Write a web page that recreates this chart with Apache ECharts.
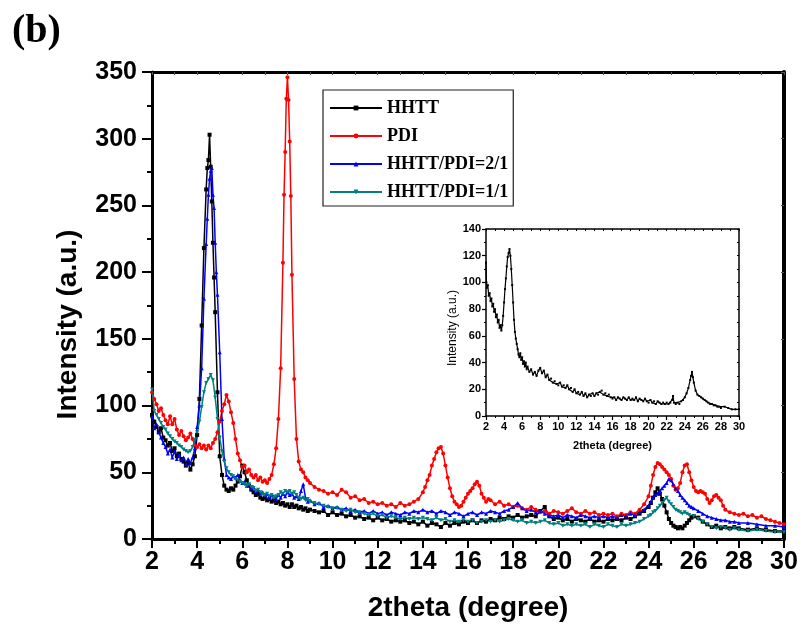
<!DOCTYPE html>
<html lang="en">
<head>
<meta charset="UTF-8">
<title>XRD patterns (b)</title>
<script src="https://cdn.jsdelivr.net/npm/echarts@6/dist/echarts.min.js"></script>
<style>
  html, body { margin: 0; padding: 0; background: #fff; }
  #chart { width: 803px; height: 630px; }
</style>
</head>
<body>
<div id="chart"></div>
<script>
// 2theta / intensity pairs
var seriesNames = ['HHTT', 'PDI', 'HHTT/PDI=2/1', 'HHTT/PDI=1/1'];

var hhtt = [[2.0,93],[2.1,88],[2.2,84],[2.3,80],[2.4,83],[2.5,76],[2.6,74],[2.7,70],[2.8,72],[2.9,66],[3.0,68],[3.1,62],[3.2,64],[3.3,60],[3.4,58],[3.5,55],[3.6,57],[3.7,52],[3.8,56],[3.9,62],
  [4.0,78],[4.1,105],[4.2,160],[4.3,218],[4.4,262],[4.45,278],[4.5,284],[4.55,303],[4.6,279],[4.65,253],[4.7,222],[4.75,196],[4.8,170],[4.9,110],[5.0,62],[5.1,48],[5.2,40],[5.3,37],[5.4,36],[5.5,38],
  [5.6,37],[5.7,40],[5.8,43],[5.9,47],[6.0,55],[6.1,50],[6.2,44],[6.3,40],[6.4,37],[6.5,35],[6.6,33],[6.7,34],[6.8,31],[6.9,30],[7.0,31],[7.1,29],[7.2,30],[7.3,28],[7.4,29],[7.5,27],
  [7.6,28],[7.7,26],[7.8,27],[7.9,25],[8.0,26],[8.1,24],[8.2,26],[8.3,24],[8.4,25],[8.5,23],[8.6,24],[8.7,22],[8.8,23],[8.9,21],[9.0,22],[9.2,21],[9.4,20],[9.6,21],[9.8,18],[10.0,20],
  [10.2,18],[10.4,19],[10.6,17],[10.8,18],[11.0,16],[11.2,17],[11.4,15],[11.6,16],[11.8,14],[12.0,16],[12.2,14],[12.4,15],[12.6,13],[12.8,14],[13.0,13],[13.2,14],[13.4,12],[13.6,13],[13.8,11],[14.0,13],
  [14.2,10],[14.4,12],[14.6,11],[14.8,9],[15.0,12],[15.2,10],[15.4,12],[15.6,11],[15.8,13],[16.0,12],[16.2,14],[16.4,12],[16.6,14],[16.8,13],[17.0,15],[17.2,14],[17.4,16],[17.6,15],[17.8,17],[18.0,16],
  [18.2,18],[18.4,16],[18.6,17],[18.8,18],[19.0,17],[19.2,21],[19.4,24],[19.6,17],[19.8,15],[20.0,16],[20.2,14],[20.4,15],[20.6,13],[20.8,15],[21.0,14],[21.2,13],[21.4,15],[21.6,13],[21.8,14],[22.0,13],
  [22.2,15],[22.4,14],[22.6,15],[22.8,14],[23.0,16],[23.2,15],[23.4,17],[23.6,19],[23.8,21],[24.0,24],[24.1,27],[24.2,31],[24.3,35],[24.4,38],[24.5,34],[24.6,30],[24.7,25],[24.8,20],[24.9,15],[25.0,12],
  [25.1,10],[25.2,9],[25.3,8],[25.4,9],[25.5,8],[25.6,10],[25.7,12],[25.8,14],[25.9,16],[26.0,17],[26.2,16],[26.4,13],[26.6,11],[26.8,9],[27.0,10],[27.2,8],[27.4,9],[27.6,8],[27.8,9],[28.0,8],
  [28.4,7],[28.8,8],[29.2,7],[29.6,6],[30.0,6]];

var pdi = [[2.0,110],[2.1,105],[2.2,101],[2.3,96],[2.4,98],[2.5,93],[2.6,89],[2.7,86],[2.8,92],[2.9,86],[3.0,90],[3.1,82],[3.2,78],[3.3,81],[3.4,77],[3.5,74],[3.6,76],[3.7,79],[3.8,75],[3.9,70],
  [4.0,69],[4.1,71],[4.2,68],[4.3,70],[4.4,67],[4.5,70],[4.6,68],[4.7,72],[4.8,75],[4.9,80],[5.0,88],[5.1,96],[5.2,101],[5.3,108],[5.4,103],[5.5,95],[5.6,87],[5.7,75],[5.8,64],[5.9,59],
  [6.0,54],[6.1,55],[6.2,50],[6.3,52],[6.4,48],[6.5,46],[6.6,48],[6.7,44],[6.8,46],[6.9,43],[7.0,44],[7.1,42],[7.2,45],[7.3,48],[7.4,56],[7.5,68],[7.6,90],[7.7,128],[7.8,207],[7.85,258],
  [7.9,290],[7.95,330],[8.0,346],[8.05,329],[8.1,298],[8.15,257],[8.2,198],[8.3,120],[8.4,75],[8.5,58],[8.6,52],[8.7,50],[8.8,46],[8.9,44],[9.0,42],[9.2,39],[9.4,37],[9.6,36],[9.8,34],[10.0,35],
  [10.2,33],[10.4,37],[10.6,35],[10.8,31],[11.0,32],[11.2,29],[11.4,30],[11.6,27],[11.8,28],[12.0,26],[12.2,27],[12.4,25],[12.6,26],[12.8,24],[13.0,27],[13.2,25],[13.4,26],[13.6,28],[13.8,30],[14.0,35],
  [14.1,39],[14.2,44],[14.3,48],[14.4,55],[14.5,60],[14.6,65],[14.7,68],[14.8,69],[14.9,64],[15.0,55],[15.1,46],[15.2,38],[15.3,32],[15.4,28],[15.5,26],[15.6,24],[15.7,25],[15.8,28],[15.9,31],[16.0,34],
  [16.1,36],[16.2,38],[16.3,41],[16.4,43],[16.5,40],[16.6,34],[16.7,31],[16.8,28],[16.9,30],[17.0,29],[17.2,26],[17.4,28],[17.6,25],[17.8,26],[18.0,24],[18.2,25],[18.4,23],[18.6,22],[18.8,24],[19.0,22],
  [19.2,20],[19.4,21],[19.6,19],[19.8,21],[20.0,20],[20.2,19],[20.4,21],[20.6,23],[20.8,20],[21.0,19],[21.2,21],[21.4,19],[21.6,20],[21.8,18],[22.0,19],[22.2,18],[22.4,19],[22.6,17],[22.8,19],[23.0,18],
  [23.2,20],[23.4,19],[23.6,22],[23.8,26],[24.0,32],[24.1,40],[24.2,48],[24.3,54],[24.4,57],[24.5,56],[24.6,54],[24.7,52],[24.8,50],[24.9,48],[25.0,45],[25.1,40],[25.2,37],[25.3,38],[25.4,42],[25.5,50],
  [25.6,55],[25.7,56],[25.8,50],[25.9,44],[26.0,39],[26.1,36],[26.2,35],[26.3,36],[26.4,35],[26.5,34],[26.6,30],[26.7,27],[26.8,29],[26.9,32],[27.0,33],[27.1,31],[27.2,29],[27.3,25],[27.4,22],[27.6,20],
  [27.8,19],[28.0,18],[28.2,19],[28.4,17],[28.6,18],[28.8,16],[29.0,17],[29.2,15],[29.4,14],[29.6,13],[29.8,12],[30.0,11]];

var mix21 = [[2.0,92],[2.1,83],[2.2,86],[2.3,80],[2.4,76],[2.5,72],[2.6,69],[2.7,64],[2.8,67],[2.9,61],[3.0,66],[3.1,60],[3.2,63],[3.3,59],[3.4,61],[3.5,56],[3.6,60],[3.7,57],[3.8,61],[3.9,68],
  [4.0,84],[4.1,100],[4.2,128],[4.3,180],[4.4,221],[4.45,240],[4.5,258],[4.55,270],[4.6,276],[4.65,278],[4.7,258],[4.75,248],[4.8,222],[4.85,200],[4.9,183],[5.0,140],[5.1,90],[5.2,60],[5.3,48],[5.4,46],
  [5.5,45],[5.6,47],[5.7,46],[5.8,48],[5.9,44],[6.0,42],[6.1,43],[6.2,40],[6.3,41],[6.4,38],[6.5,39],[6.6,36],[6.7,37],[6.8,34],[6.9,35],[7.0,33],[7.1,34],[7.2,31],[7.3,33],[7.4,32],
  [7.5,30],[7.6,33],[7.7,31],[7.8,34],[7.9,32],[8.0,35],[8.1,33],[8.2,34],[8.3,31],[8.4,32],[8.5,30],[8.6,36],[8.7,41],[8.8,31],[8.9,28],[9.0,29],[9.2,26],[9.4,27],[9.6,24],[9.8,25],
  [10.0,23],[10.2,24],[10.4,22],[10.6,23],[10.8,21],[11.0,22],[11.2,20],[11.4,21],[11.6,19],[11.8,21],[12.0,19],[12.2,20],[12.4,18],[12.6,20],[12.8,19],[13.0,18],[13.2,20],[13.4,19],[13.6,21],[13.8,20],
  [14.0,22],[14.2,20],[14.4,21],[14.6,19],[14.8,21],[15.0,20],[15.2,18],[15.4,20],[15.6,19],[15.8,17],[16.0,19],[16.2,20],[16.4,18],[16.6,20],[16.8,19],[17.0,21],[17.2,20],[17.4,19],[17.6,21],[17.8,22],
  [18.0,24],[18.2,27],[18.4,23],[18.6,21],[18.8,22],[19.0,20],[19.2,21],[19.4,19],[19.6,18],[19.8,17],[20.0,18],[20.2,16],[20.4,18],[20.6,17],[20.8,16],[21.0,18],[21.2,17],[21.4,16],[21.6,17],[21.8,16],
  [22.0,17],[22.2,16],[22.4,17],[22.6,16],[22.8,18],[23.0,17],[23.2,19],[23.4,18],[23.6,20],[23.8,22],[24.0,25],[24.1,28],[24.2,31],[24.3,33],[24.4,34],[24.5,36],[24.6,38],[24.7,40],[24.8,42],[24.9,45],
  [25.0,44],[25.1,41],[25.2,38],[25.3,36],[25.4,33],[25.5,31],[25.6,29],[25.7,27],[25.8,25],[25.9,24],[26.0,23],[26.2,21],[26.4,19],[26.6,17],[26.8,16],[27.0,15],[27.2,14],[27.4,14],[27.6,13],[27.8,13],
  [28.0,12],[28.4,12],[28.8,11],[29.2,10],[29.6,10],[30.0,9]];

var mix11 = [[2.0,112],[2.1,96],[2.2,93],[2.3,90],[2.4,87],[2.5,84],[2.6,82],[2.7,79],[2.8,77],[2.9,75],[3.0,73],[3.1,72],[3.2,70],[3.3,69],[3.4,67],[3.5,66],[3.6,65],[3.7,66],[3.8,69],[3.9,74],
  [4.0,80],[4.1,88],[4.2,99],[4.3,110],[4.4,117],[4.5,120],[4.6,123],[4.7,119],[4.8,106],[4.9,90],[5.0,76],[5.1,66],[5.2,58],[5.3,53],[5.4,50],[5.5,48],[5.6,47],[5.7,45],[5.8,44],[5.9,43],
  [6.0,42],[6.1,41],[6.2,40],[6.3,41],[6.4,39],[6.5,38],[6.6,36],[6.7,37],[6.8,35],[6.9,34],[7.0,33],[7.1,34],[7.2,32],[7.3,33],[7.4,31],[7.5,32],[7.6,33],[7.7,35],[7.8,34],[7.9,36],
  [8.0,35],[8.1,36],[8.2,34],[8.3,35],[8.4,33],[8.5,31],[8.6,30],[8.7,31],[8.8,29],[8.9,30],[9.0,28],[9.2,27],[9.4,26],[9.6,25],[9.8,24],[10.0,23],[10.2,23],[10.4,22],[10.6,21],[10.8,22],
  [11.0,20],[11.2,20],[11.4,19],[11.6,18],[11.8,19],[12.0,17],[12.2,18],[12.4,16],[12.6,17],[12.8,16],[13.0,15],[13.2,16],[13.4,15],[13.6,16],[13.8,15],[14.0,16],[14.2,15],[14.4,14],[14.6,16],[14.8,14],
  [15.0,15],[15.2,13],[15.4,14],[15.6,13],[15.8,14],[16.0,13],[16.2,14],[16.4,12],[16.6,13],[16.8,14],[17.0,13],[17.2,14],[17.4,13],[17.6,14],[17.8,15],[18.0,14],[18.2,13],[18.4,14],[18.6,12],[18.8,13],
  [19.0,12],[19.2,13],[19.4,14],[19.6,12],[19.8,11],[20.0,12],[20.2,10],[20.4,11],[20.6,10],[20.8,11],[21.0,10],[21.2,11],[21.4,9],[21.6,11],[21.8,10],[22.0,9],[22.2,11],[22.4,10],[22.6,9],[22.8,11],
  [23.0,10],[23.2,11],[23.4,12],[23.6,13],[23.8,15],[24.0,17],[24.1,18],[24.2,20],[24.3,21],[24.4,23],[24.5,25],[24.6,27],[24.7,29],[24.8,31],[24.9,28],[25.0,26],[25.1,24],[25.2,22],[25.3,21],[25.4,20],
  [25.5,19],[25.6,20],[25.7,19],[25.8,18],[26.0,17],[26.2,15],[26.4,13],[26.6,11],[26.8,9],[27.0,8],[27.2,9],[27.4,8],[27.6,7],[27.8,8],[28.0,7],[28.4,6],[28.8,7],[29.2,6],[29.6,5],[30.0,5]];

// inset: HHTT on its own scale
var insetHhtt = [[2.0,115],[2.05,100],[2.1,96],[2.2,98],[2.3,90],[2.4,92],[2.5,86],[2.6,88],[2.7,82],[2.8,84],[2.9,78],[3.0,80],[3.1,74],[3.2,76],[3.3,70],[3.4,72],[3.5,66],[3.6,68],[3.7,64],[3.8,68],
  [3.9,75],[4.0,85],[4.1,95],[4.2,103],[4.3,112],[4.4,119],[4.5,122],[4.6,125],[4.7,120],[4.8,110],[4.9,98],[5.0,85],[5.1,72],[5.2,63],[5.3,58],[5.4,54],[5.5,50],[5.6,46],[5.7,44],[5.8,47],
  [5.9,42],[6.0,44],[6.1,39],[6.2,41],[6.3,37],[6.4,40],[6.5,35],[6.6,37],[6.8,33],[7.0,35],[7.2,31],[7.4,33],[7.6,30],[7.8,34],[8.0,36],[8.2,32],[8.4,34],[8.6,29],[8.8,31],[9.0,27],
  [9.2,28],[9.4,25],[9.6,26],[9.8,24],[10.0,23],[10.2,25],[10.4,22],[10.6,23],[10.8,21],[11.0,23],[11.2,20],[11.4,21],[11.6,18],[11.8,20],[12.0,17],[12.2,18],[12.4,16],[12.6,18],[12.8,15],[13.0,17],
  [13.2,14],[13.4,16],[13.6,15],[13.8,17],[14.0,15],[14.2,17],[14.4,16],[14.6,18],[14.8,19],[15.0,16],[15.2,17],[15.4,15],[15.6,16],[15.8,14],[16.0,13],[16.2,14],[16.4,12],[16.6,14],[16.8,13],[17.0,12],
  [17.2,14],[17.4,13],[17.6,12],[17.8,14],[18.0,12],[18.2,13],[18.4,12],[18.6,14],[18.8,11],[19.0,13],[19.2,12],[19.4,11],[19.6,13],[19.8,11],[20.0,10],[20.2,12],[20.4,10],[20.6,11],[20.8,9],[21.0,11],
  [21.2,10],[21.4,9],[21.6,10],[21.8,9],[22.0,10],[22.2,9],[22.4,10],[22.6,12],[22.7,15],[22.8,10],[23.0,9],[23.2,10],[23.4,9],[23.6,11],[23.8,12],[24.0,14],[24.2,17],[24.4,21],[24.6,27],[24.7,30],
  [24.8,33],[24.9,29],[25.0,25],[25.2,19],[25.4,16],[25.6,15],[25.8,14],[26.0,13],[26.2,12],[26.4,11],[26.6,10],[26.8,9],[27.0,9],[27.2,8],[27.4,8],[27.6,7],[27.8,7],[28.0,6],[28.4,7],[28.8,6],
  [29.2,5],[29.6,5],[30.0,5]];

var colors = ['#000000', '#ff0000', '#0000ff', '#008080'];

var sans = 'Liberation Sans';
var serif = 'Liberation Serif';

var myChart = echarts.init(document.getElementById('chart'));

function lineSeries(name, data, color, symbol, rotate) {
  return {
    name: name,
    type: 'line',
    xAxisIndex: 0,
    yAxisIndex: 0,
    data: data,
    symbol: symbol,
    symbolSize: 4,
    symbolRotate: rotate || 0,
    lineStyle: { color: color, width: 1.5 },
    itemStyle: { color: color },
    z: 3
  };
}

var option = {
  animation: false,
  backgroundColor: '#fff',
  color: colors,
  graphic: [{
    type: 'text',
    left: 12,
    top: 12,
    style: { text: '(b)', font: 'bold 40px "Liberation Serif"', fill: '#000' }
  }],
  legend: {
    orient: 'vertical',
    left: 323,
    top: 90,
    data: seriesNames,
    itemWidth: 52,
    itemHeight: 6,
    itemGap: 10,
    padding: [9, 5, 5, 6],
    backgroundColor: '#fff',
    borderColor: '#222',
    borderWidth: 1.2,
    borderRadius: 0,
    textStyle: { fontFamily: serif, fontWeight: 'bold', fontSize: 18, lineHeight: 18, color: '#000' }
  },
  grid: [
    { left: 152, top: 72, width: 632, height: 467 },
    { left: 486, top: 229, width: 253, height: 187 }
  ],
  xAxis: [
    {
      gridIndex: 0, type: 'value', min: 2, max: 30, interval: 2,
      name: '2theta (degree)', nameLocation: 'middle', nameGap: 55,
      nameTextStyle: { fontFamily: sans, fontWeight: 'bold', fontSize: 28, color: '#000' },
      axisLine: { onZero: false, lineStyle: { color: '#000', width: 3 } },
      axisTick: { inside: false, length: 9, lineStyle: { width: 2, color: '#000' } },
      minorTick: { show: true, splitNumber: 2, length: 5, lineStyle: { width: 2, color: '#000' } },
      axisLabel: { fontFamily: sans, fontWeight: 'bold', fontSize: 25, color: '#000', margin: 11 },
      splitLine: { show: false }
    },
    {
      gridIndex: 0, type: 'value', position: 'top', min: 2, max: 30, interval: 2,
      axisLine: { onZero: false, lineStyle: { color: '#000', width: 3 } },
      axisTick: { inside: true, length: 3, lineStyle: { width: 1, color: '#555' } },
      minorTick: { show: true, splitNumber: 2, length: 3, lineStyle: { width: 1, color: '#555' } },
      axisLabel: { show: false },
      splitLine: { show: false }
    },
    {
      gridIndex: 1, type: 'value', min: 2, max: 30, interval: 2,
      name: '2theta (degree)', nameLocation: 'middle', nameGap: 24,
      nameTextStyle: { fontFamily: sans, fontWeight: 'bold', fontSize: 11, color: '#000' },
      axisLine: { onZero: false, lineStyle: { color: '#000', width: 1.5 } },
      axisTick: { inside: false, length: 4, lineStyle: { width: 1.2, color: '#000' } },
      minorTick: { show: true, splitNumber: 2, length: 2, lineStyle: { width: 1, color: '#000' } },
      axisLabel: { fontFamily: sans, fontWeight: 'bold', fontSize: 11, color: '#000', margin: 5 },
      splitLine: { show: false }
    },
    {
      gridIndex: 1, type: 'value', position: 'top', min: 2, max: 30, interval: 2,
      axisLine: { onZero: false, lineStyle: { color: '#000', width: 1.5 } },
      axisTick: { inside: true, length: 2, lineStyle: { width: 1, color: '#000' } },
      minorTick: { show: true, splitNumber: 2, length: 2, lineStyle: { width: 1, color: '#000' } },
      axisLabel: { show: false },
      splitLine: { show: false }
    }
  ],
  yAxis: [
    {
      gridIndex: 0, type: 'value', min: 0, max: 350, interval: 50,
      name: 'Intensity (a.u.)', nameLocation: 'middle', nameGap: 70, nameRotate: 90,
      nameTextStyle: { fontFamily: sans, fontWeight: 'bold', fontSize: 28, color: '#000', padding: [0, 38, 0, 0] },
      axisLine: { show: true, onZero: false, lineStyle: { color: '#000', width: 3 } },
      axisTick: { show: true, inside: false, length: 10, lineStyle: { width: 2, color: '#000' } },
      minorTick: { show: true, splitNumber: 2, length: 5, lineStyle: { width: 2, color: '#000' } },
      axisLabel: { fontFamily: sans, fontWeight: 'bold', fontSize: 25, color: '#000', margin: 15 },
      splitLine: { show: false }
    },
    {
      gridIndex: 0, type: 'value', position: 'right', min: 0, max: 350, interval: 50,
      axisLine: { show: true, onZero: false, lineStyle: { color: '#000', width: 4 } },
      axisTick: { show: true, inside: true, length: 3, lineStyle: { width: 1, color: '#555' } },
      minorTick: { show: false },
      axisLabel: { show: false },
      splitLine: { show: false }
    },
    {
      gridIndex: 1, type: 'value', min: 0, max: 140, interval: 20,
      name: 'Intensity (a.u.)', nameLocation: 'middle', nameGap: 27, nameRotate: 90,
      nameTextStyle: { fontFamily: sans, fontSize: 12, color: '#000', padding: [0, 11, 0, 0] },
      axisLine: { show: true, onZero: false, lineStyle: { color: '#000', width: 1.5 } },
      axisTick: { show: true, inside: false, length: 4, lineStyle: { width: 1.2, color: '#000' } },
      minorTick: { show: true, splitNumber: 2, length: 2, lineStyle: { width: 1, color: '#000' } },
      axisLabel: { fontFamily: sans, fontWeight: 'bold', fontSize: 11, color: '#000', margin: 5 },
      splitLine: { show: false }
    },
    {
      gridIndex: 1, type: 'value', position: 'right', min: 0, max: 140, interval: 20,
      axisLine: { show: true, onZero: false, lineStyle: { color: '#000', width: 1.5 } },
      axisTick: { show: true, inside: true, length: 2, lineStyle: { width: 1, color: '#000' } },
      minorTick: { show: true, splitNumber: 2, length: 2, lineStyle: { width: 1, color: '#000' } },
      axisLabel: { show: false },
      splitLine: { show: false }
    }
  ],
  series: [
    lineSeries(seriesNames[0], hhtt, colors[0], 'rect'),
    lineSeries(seriesNames[1], pdi, colors[1], 'circle'),
    lineSeries(seriesNames[2], mix21, colors[2], 'triangle'),
    lineSeries(seriesNames[3], mix11, colors[3], 'triangle', 180),
    {
      name: 'inset',
      type: 'line',
      xAxisIndex: 2,
      yAxisIndex: 2,
      data: insetHhtt,
      symbol: 'rect',
      symbolSize: 2,
      lineStyle: { color: '#000', width: 1.2 },
      itemStyle: { color: '#000' }
    }
  ]
};

myChart.setOption(option);
</script>
</body>
</html>
